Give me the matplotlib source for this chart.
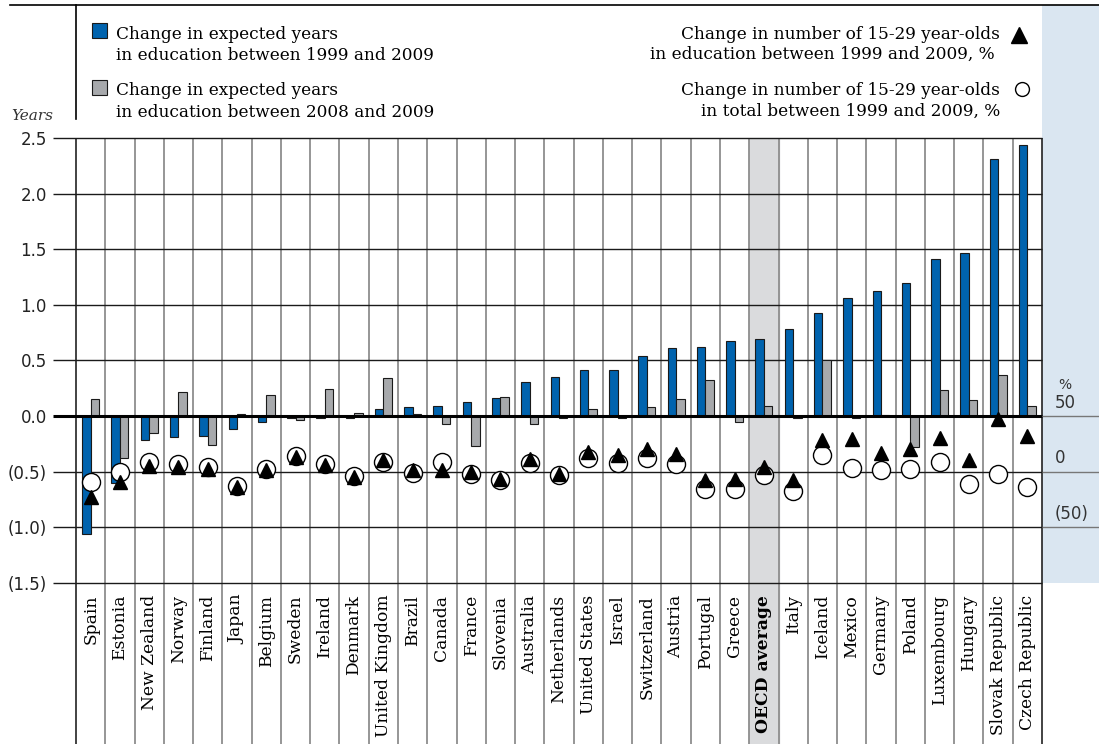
import matplotlib
matplotlib.use("Agg")
import matplotlib.pyplot as plt
from matplotlib.patches import Rectangle
from matplotlib.lines import Line2D
import matplotlib.transforms as mtransforms

# Data
countries = ["Spain", "Estonia", "New Zealand", "Norway", "Finland", "Japan", "Belgium",
             "Sweden", "Ireland", "Denmark", "United Kingdom", "Brazil", "Canada", "France",
             "Slovenia", "Australia", "Netherlands", "United States", "Israel", "Switzerland",
             "Austria", "Portugal", "Greece", "OECD average", "Italy", "Iceland", "Mexico",
             "Germany", "Poland", "Luxembourg", "Hungary", "Slovak Republic", "Czech Republic"]
years_1999_2009 = [-1.06, -0.60, -0.22, -0.19, -0.18, -0.12, -0.05, -0.02, -0.02, -0.02,
                   0.06, 0.08, 0.09, 0.13, 0.16, 0.31, 0.35, 0.41, 0.41, 0.54, 0.61, 0.62,
                   0.67, 0.69, 0.78, 0.93, 1.06, 1.12, 1.20, 1.41, 1.47, 2.31, 2.44]
years_2008_2009 = [0.15, -0.38, -0.15, 0.22, -0.26, 0.02, 0.19, -0.04, 0.24, 0.03, 0.34,
                   0.02, -0.07, -0.27, 0.17, -0.07, -0.02, 0.06, -0.02, 0.08, 0.15, 0.32,
                   -0.05, 0.09, -0.02, 0.50, -0.02, 0.01, -0.28, 0.23, 0.14, 0.37, 0.09]
pct_in_education = [-23, -9, 5, 4, 2, -14, 1, 13, 6, -5, 10, 1, 1, 0, -7, 11, -2, 18, 15,
                    20, 16, -8, -7, 4, -8, 28, 29, 17, 20, 30, 10, 47, 32]
pct_total = [-9, 0, 9, 7, 4, -13, 2, 14, 7, -4, 9, -1, 9, -2, -8, 8, -3, 12, 8, 12, 7, -16,
             -16, -3, -17, 15, 3, 1, 2, 9, -11, -2, -14]
left_ticks = [2.5, 2.0, 1.5, 1.0, 0.5, 0.0, -0.5, -1.0, -1.5]
left_labels = ["2.5", "2.0", "1.5", "1.0", "0.5", "0.0", "(0.5)", "(1.0)", "(1.5)"]
right_ticks = [50, 0, -50]
right_labels = ["50", "0", "(50)"]

BLUE = "#0063ae"
GREY = "#a7a9ac"
W, H = 1099, 744

plt.rcParams["font.family"] = ["DejaVu Serif"]
fig = plt.figure(figsize=(W / 100, H / 100), dpi=100)

# axes spans from plot top (y=138px) down to image bottom
ax = fig.add_axes([76 / W, 0, 966 / W, 1 - 138 / H])
ppy = 111.2  # pixels per year
ybot = 2.5 - (H - 138) / ppy
n = len(countries)
ax.set_xlim(-0.5, n - 0.5)
ax.set_ylim(ybot, 2.5)
for s in ax.spines.values():
    s.set_visible(False)
ax.set_xticks([])
ax.set_yticks(left_ticks)
ax.set_yticklabels(left_labels, family="DejaVu Sans", fontsize=12, color="#222222")
ax.tick_params(axis="y", length=0, pad=21)

px = 1 / 29.27  # one pixel in x data units
# OECD shading
oecd = countries.index("OECD average")
ax.axvspan(oecd - 0.5, oecd + 0.5, color="#dadbdd", zorder=0)

# column separators
ax.vlines([k - 0.5 for k in range(1, n)], ybot, 2.5, color="#8e8e8e", lw=1.3, zorder=1)
ax.vlines([-0.5, n - 0.5], ybot, 2.5, color="#222222", lw=1.2, zorder=1, clip_on=False)

# horizontal grid lines with left tick stubs
grid = [t for t in left_ticks if t != 0]
ax.hlines(grid, -0.5 - 23 * px, n - 0.5, color="#1a1a1a", lw=1.0, zorder=1, clip_on=False)

# bars
xs = list(range(n))
bw = 0.29
ax.bar([x - bw / 2 for x in xs], years_1999_2009, bw, color=BLUE, edgecolor="#1a1a1a",
       lw=0.8, zorder=2)
ax.bar([x + bw / 2 for x in xs], years_2008_2009, bw, color=GREY, edgecolor="#1a1a1a",
       lw=0.8, zorder=2)
ax.hlines(0, -0.5 - 23 * px, n - 0.5, color="black", lw=2.2, zorder=3, clip_on=False)

# right blue panel
ptop = 2.5 + (138 - 5) / ppy
ax.add_patch(Rectangle((n - 0.5, -1.5), 57 * px + 0.2, ptop + 1.5, facecolor="#dae6f1",
                       edgecolor="none", zorder=0, clip_on=False))

# country labels
for i, name in enumerate(countries):
    ax.text(i, -1.5 - 12 / ppy, name, rotation=90, ha="center", va="top", fontsize=12.3,
            fontweight="bold" if name == "OECD average" else "normal")

# secondary % axis
ax2 = ax.twinx()
ax2.set_ylim(ybot * 100 + 50, 250 + 50)
ax2.set_yticks([])
for s in ax2.spines.values():
    s.set_visible(False)
ax2.hlines(right_ticks, n - 0.5, n - 0.5 + 60 * px, color="#777777", lw=1.0,
           clip_on=False, zorder=1)
ax2.plot(xs, pct_total, "o", ms=13, mfc="white", mec="black", mew=1.0, zorder=4)
ax2.plot(xs, pct_in_education, "^", ms=9.5, color="black", zorder=5)
trans = mtransforms.blended_transform_factory(ax2.transAxes, ax2.transData)
for v, lab in zip(right_ticks, right_labels):
    ax2.text((1055 - 76) / 966, v + 4, lab, transform=trans, ha="left", va="bottom",
             family="DejaVu Sans", fontsize=12, color="#333333", clip_on=False)
ax2.text((1065 - 76) / 966, 50 + 22, "%", transform=trans, ha="center", va="bottom",
         family="DejaVu Sans", fontsize=10, color="#333333", clip_on=False)


def fx(x):
    return x / W


def fy(y):
    return 1 - y / H


# frame lines of the legend area
fig.add_artist(Line2D([fx(10), 1], [fy(5), fy(5)], color="black", lw=1.2))
fig.add_artist(Line2D([fx(76), fx(76)], [fy(5), fy(119)], color="black", lw=1.2))

# legend
fs = 12.2
fig.add_artist(Rectangle((fx(92), fy(38)), 15 / W, 15 / H, facecolor=BLUE,
                         edgecolor="#1a1a1a", lw=0.8))
fig.add_artist(Rectangle((fx(92), fy(95)), 15 / W, 15 / H, facecolor=GREY,
                         edgecolor="#1a1a1a", lw=0.8))
fig.text(fx(116), fy(39), "Change in expected years", fontsize=fs, va="baseline")
fig.text(fx(116), fy(60), "in education between 1999 and 2009", fontsize=fs, va="baseline")
fig.text(fx(116), fy(95), "Change in expected years", fontsize=fs, va="baseline")
fig.text(fx(116), fy(117), "in education between 2008 and 2009", fontsize=fs, va="baseline")

fig.text(fx(1000), fy(39), "Change in number of 15-29 year-olds", fontsize=fs,
         va="baseline", ha="right")
fig.text(fx(995), fy(59), "in education between 1999 and 2009, %", fontsize=fs,
         va="baseline", ha="right")
fig.text(fx(1000), fy(95), "Change in number of 15-29 year-olds", fontsize=fs,
         va="baseline", ha="right")
fig.text(fx(1000), fy(116), "in total between 1999 and 2009, %", fontsize=fs,
         va="baseline", ha="right")
fig.add_artist(Line2D([fx(1019)], [fy(35)], marker="^", ms=12, color="black"))
fig.add_artist(Line2D([fx(1022)], [fy(89)], marker="o", ms=10, mfc="white", mec="black",
                      mew=1.0))

fig.text(fx(53), fy(120), "Years", fontsize=11, style="italic", ha="right", va="baseline",
         color="#333333")

fig.savefig("out.png", dpi=100)
